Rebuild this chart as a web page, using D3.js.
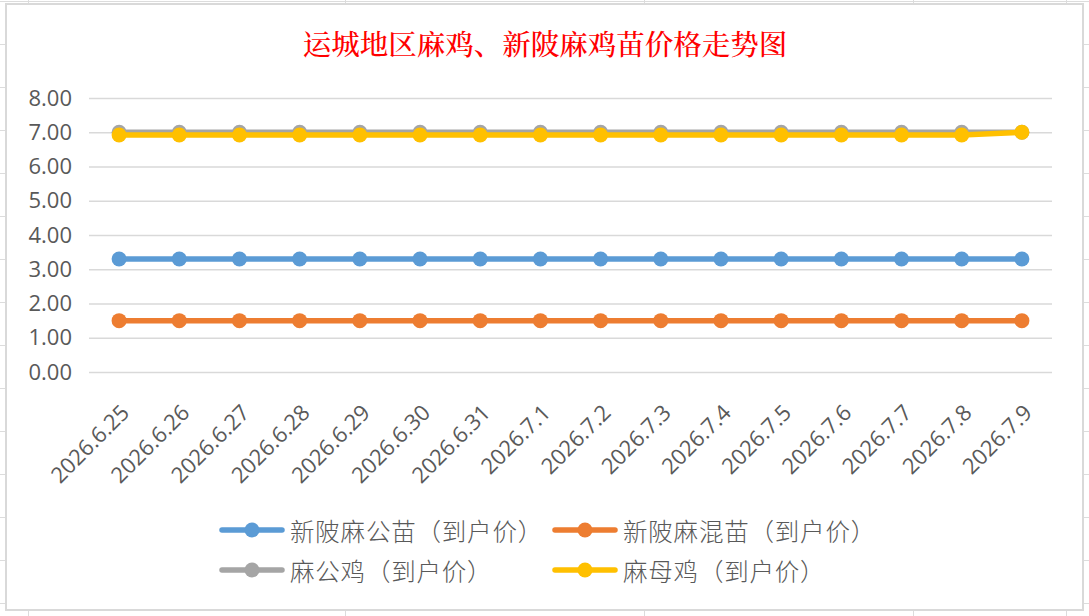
<!DOCTYPE html>
<html>
<head>
<meta charset="utf-8">
<script src="https://cdn.jsdelivr.net/npm/d3@7"></script>
<style>
  body { margin: 0; background: #fff; }
  svg { display: block; }
</style>
</head>
<body>
<svg width="1089" height="616"></svg>
<script>
// 日期
const dates = ["2026.6.25", "2026.6.26", "2026.6.27", "2026.6.28", "2026.6.29", "2026.6.30", "2026.6.31",
  "2026.7.1", "2026.7.2", "2026.7.3", "2026.7.4", "2026.7.5", "2026.7.6", "2026.7.7", "2026.7.8", "2026.7.9"];

const seriesNames = ["新陂麻公苗（到户价）", "新陂麻混苗（到户价）", "麻公鸡（到户价）", "麻母鸡（到户价）"];
const seriesColors = ["#5b9bd5", "#ed7d31", "#a5a5a5", "#ffc000"];

const gongMiao = [3.3, 3.3, 3.3, 3.3, 3.3, 3.3, 3.3, 3.3, 3.3, 3.3, 3.3, 3.3, 3.3, 3.3, 3.3, 3.3];
const hunMiao  = [1.5, 1.5, 1.5, 1.5, 1.5, 1.5, 1.5, 1.5, 1.5, 1.5, 1.5, 1.5, 1.5, 1.5, 1.5, 1.5];
const gongJi   = [7.0, 7.0, 7.0, 7.0, 7.0, 7.0, 7.0, 7.0, 7.0, 7.0, 7.0, 7.0, 7.0, 7.0, 7.0, 7.0];
const muJi     = [6.92, 6.92, 6.92, 6.92, 6.92, 6.92, 6.92, 6.92, 6.92, 6.92, 6.92, 6.92, 6.92, 6.92, 6.92, 7.0];

const yTicks = [0, 1, 2, 3, 4, 5, 6, 7, 8];

const allSeries = [gongMiao, hunMiao, gongJi, muJi];

const numFont = "'Open Sans', 'Noto Sans', sans-serif";
const cjkFont = "'Noto Sans CJK SC', sans-serif";

var svg = d3.select("svg");

// 表格背景线
var sheet = svg.append("g").attr("stroke", "#dcdcdc").attr("stroke-width", 1);
d3.range(0, 15).forEach(function(k) {
  sheet.append("line").attr("x1", 0).attr("x2", 1089).attr("y1", 1 + 43 * k + 0.5).attr("y2", 1 + 43 * k + 0.5);
});
[28, 345, 644, 913, 1066].forEach(function(cx) {
  sheet.append("line").attr("x1", cx + 0.5).attr("x2", cx + 0.5).attr("y1", 0).attr("y2", 616);
});

// 图表框
svg.append("rect")
   .attr("x", 6).attr("y", 4)
   .attr("width", 1077).attr("height", 606)
   .attr("fill", "#fff")
   .attr("stroke", "#d9d9d9")
   .attr("stroke-width", 2);

svg.append("text")
   .attr("x", 545).attr("y", 42)
   .attr("text-anchor", "middle")
   .attr("dominant-baseline", "central")
   .attr("fill", "#ff0000")
   .style("font-family", "'Noto Serif CJK SC', " + cjkFont)
   .style("font-size", "28.5px")
   .style("font-weight", "500")
   .text("运城地区麻鸡、新陂麻鸡苗价格走势图");

var plotLeft = 89, plotRight = 1052, plotTop = 98, plotBottom = 372;

var x = d3.scalePoint().domain(dates).range([plotLeft, plotRight]).padding(0.5);
var y = d3.scaleLinear().domain([0, 8]).range([plotBottom, plotTop]);

var yAxis = svg.append("g")
   .attr("transform", `translate(${plotLeft},0)`)
   .call(d3.axisLeft(y).tickValues(yTicks).tickFormat(d3.format(".2f"))
           .tickSize(-(plotRight - plotLeft)).tickPadding(17));
yAxis.select(".domain").remove();
yAxis.selectAll("line").attr("stroke", "#d9d9d9").attr("stroke-width", 1.5);
yAxis.selectAll("text")
     .attr("fill", "#595959")
     .style("font-family", numFont)
     .style("font-size", "22px");

var xAxis = svg.append("g")
   .attr("transform", `translate(0,${plotBottom})`)
   .call(d3.axisBottom(x).tickSize(0));
xAxis.select(".domain").remove();
xAxis.selectAll("text")
     .attr("x", 0).attr("y", 0).attr("dy", 0)
     .attr("transform", "translate(11,42) rotate(-45)")
     .attr("text-anchor", "end")
     .attr("fill", "#595959")
     .style("font-family", numFont)
     .style("font-size", "22px");

var line = d3.line()
   .x(function(d, i) { return x(dates[i]); })
   .y(function(d) { return y(d); });

allSeries.forEach(function(vals, s) {
  var g = svg.append("g");
  g.append("path")
   .datum(vals)
   .attr("fill", "none")
   .attr("stroke", seriesColors[s])
   .attr("stroke-width", 5.5)
   .attr("stroke-linejoin", "round")
   .attr("d", line);
  g.selectAll("circle")
   .data(vals)
   .enter().append("circle")
   .attr("cx", function(d, i) { return x(dates[i]); })
   .attr("cy", function(d) { return y(d); })
   .attr("r", 7.5)
   .attr("fill", seriesColors[s]);
});

// 图例
var legendPos = [[222, 530], [555, 530], [222, 570], [555, 570]];
var legend = svg.selectAll(".legend")
   .data(seriesNames)
   .enter().append("g")
   .attr("class", "legend")
   .attr("transform", function(d, i) { return `translate(${legendPos[i][0]},${legendPos[i][1]})`; });
legend.append("line")
   .attr("x1", 0).attr("x2", 60)
   .attr("stroke", function(d, i) { return seriesColors[i]; })
   .attr("stroke-width", 5.5)
   .attr("stroke-linecap", "round");
legend.append("circle")
   .attr("cx", 30).attr("r", 7.5)
   .attr("fill", function(d, i) { return seriesColors[i]; });
legend.append("text")
   .attr("x", 68)
   .attr("dominant-baseline", "central")
   .attr("fill", "#595959")
   .style("font-family", cjkFont)
   .style("font-size", "24.5px")
   .style("font-weight", "300")
   .style("letter-spacing", "0.8px")
   .text(function(d) { return d; });
</script>
</body>
</html>
